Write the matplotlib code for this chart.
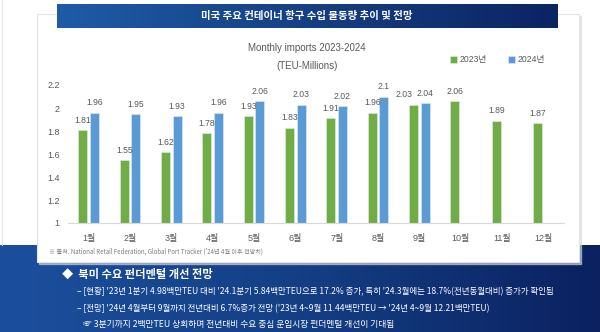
import numpy as np
import matplotlib.pyplot as plt
from matplotlib.patches import Rectangle
from matplotlib.colors import LinearSegmentedColormap

plt.rcParams['font.family'] = ['Liberation Sans', 'Noto Sans CJK KR', 'DejaVu Sans']
KR = ['Noto Sans CJK KR', 'DejaVu Sans']

# dados
meses = ["1월", "2월", "3월", "4월", "5월", "6월", "7월", "8월", "9월", "10월", "11월", "12월"]
imp_2023 = [1.81, 1.55, 1.62, 1.78, 1.93, 1.83, 1.91, 1.96, 2.03, 2.06, 1.89, 1.87]
imp_2024 = [1.96, 1.95, 1.93, 1.96, 2.06, 2.03, 2.02, 2.1, 2.04]
y_ticks = [1, 1.2, 1.4, 1.6, 1.8, 2, 2.2]
y_tick_labels = ["1", "1.2", "1.4", "1.6", "1.8", "2", "2.2"]

titulo = "미국 주요 컨테이너 항구 수입 물동량 추이 및 전망"
fonte = "※ 출처. National Retail Federation, Global Port Tracker ('24년 4월 이후 전망치)"
cabecalho = "◆  북미 수요 펀더멘털 개선 전망"
linhas = [
    "– [현황] '23년 1분기 4.98백만TEU 대비 '24.1분기 5.84백만TEU으로 17.2% 증가, 특히 '24.3월에는 18.7%(전년동월대비) 증가가 확인됨",
    "– [전망] '24년 4월부터 9월까지 전년대비 6.7%증가 전망 ('23년 4~9월 11.44백만TEU → '24년 4~9월 12.21백만TEU)",
    "☞ 3분기까지 2백만TEU 상회하며 전년대비 수요 중심 운임시장 펀더멘털 개선이 기대됨",
]

VERDE = "#70ad47"
AZUL = "#5b9bd5"
CINZA = "#595959"
W, H = 600, 332

fig = plt.figure(figsize=(6, 3.32), dpi=100)

# fundo em coordenadas de pixel (y para baixo)
bg = fig.add_axes([0, 0, 1, 1])
bg.set_xlim(0, W)
bg.set_ylim(H, 0)
bg.axis("off")

grad = np.linspace(0, 1, 256).reshape(1, -1)
cm_baixo = LinearSegmentedColormap.from_list("b", ["#1b4f9e", "#143f85", "#0b2160"])
cm_topo = LinearSegmentedColormap.from_list("t", ["#1f5ba6", "#0b2462"])

bg.add_patch(Rectangle((0, 0), W, 245, color="white", zorder=0))
bg.imshow(grad, cmap=cm_baixo, extent=[0, W, H, 245], aspect="auto", zorder=1)
bg.plot([1.5, 1.5], [0, 245], color="#e6e6e6", lw=0.8, zorder=1)

# painel branco com sombra
bg.add_patch(Rectangle((39, 16), 542, 248, color="#d9d9d9", alpha=0.6, zorder=2))
bg.add_patch(Rectangle((37, 14), 542, 248, facecolor="white", edgecolor="#e3e3e3", lw=0.8, zorder=3))

# faixa do título
bg.imshow(grad, cmap=cm_topo, extent=[57, 558, 28, 4], aspect="auto", zorder=4)
bg.text(307, 16, titulo, color="white", fontsize=7.5, fontweight="bold", family=KR,
        ha="center", va="center", zorder=5)

bg.text(307, 48, "Monthly imports 2023-2024", color=CINZA, fontsize=7,
        ha="center", va="center", zorder=5)
bg.text(307, 66, "(TEU-Millions)", color=CINZA, fontsize=7,
        ha="center", va="center", zorder=5)

bg.text(49, 252, fonte, color="#7f7f7f", fontsize=4.4, family=KR,
        ha="left", va="center", zorder=5)

bg.text(62, 274, cabecalho, color="white", fontsize=8.1, fontweight="bold", family=KR,
        ha="left", va="center", zorder=5)
bg.text(77, 292, linhas[0], color="white", fontsize=6.1, family=KR, ha="left", va="center", zorder=5)
bg.text(77, 309, linhas[1], color="white", fontsize=6.1, family=KR, ha="left", va="center", zorder=5)
bg.text(83, 325, linhas[2], color="white", fontsize=6.3, family=KR, ha="left", va="center", zorder=5)

# gráfico
ax = fig.add_axes([68 / W, (H - 223) / H, (564 - 68) / W, (223 - 85) / H])
ax.set_zorder(10)
ax.patch.set_alpha(0)

x = np.arange(len(meses))
largura = 0.22
b1 = ax.bar(x - 0.14, imp_2023, largura, color=VERDE, edgecolor="#e2efda", lw=0.4, label="2023년")
b2 = ax.bar(x[:len(imp_2024)] + 0.14, imp_2024, largura, color=AZUL, edgecolor="#deebf7", lw=0.4, label="2024년")

for i, (rect, v) in enumerate(zip(b1, imp_2023)):
    dx = 0
    # rótulo verde empurrado para a esquerda quando encosta no azul
    if i < len(imp_2024) and abs(imp_2024[i] - v) < 0.05:
        dx = -0.22
    ax.text(rect.get_x() + rect.get_width() / 2 + dx, v + 0.045, f"{v:g}",
            ha="center", va="bottom", fontsize=6.2, color=CINZA)
for rect, v in zip(b2, imp_2024):
    ax.text(rect.get_x() + rect.get_width() / 2, v + 0.045, f"{v:g}",
            ha="center", va="bottom", fontsize=6.2, color=CINZA)

ax.set_ylim(1, 2.2)
ax.set_xlim(-0.5, 11.5)
ax.set_yticks(y_ticks)
ax.set_yticklabels(y_tick_labels)
ax.set_xticks(x)
ax.set_xticklabels(meses)
ax.tick_params(length=0, labelsize=6.5, labelcolor=CINZA)
ax.tick_params(axis="x", pad=8)
ax.tick_params(axis="y", pad=6)
for lado in ["top", "right", "left"]:
    ax.spines[lado].set_visible(False)
ax.spines["bottom"].set_color("#d9d9d9")
ax.spines["bottom"].set_linewidth(0.8)

ax.legend(loc="upper left", bbox_to_anchor=(0.755, 1.27), ncol=2, frameon=False,
          fontsize=6.2, handlelength=0.8, handleheight=0.8, columnspacing=2.5,
          handletextpad=0.3, labelcolor=CINZA)

fig.savefig("out.png", dpi=100)
